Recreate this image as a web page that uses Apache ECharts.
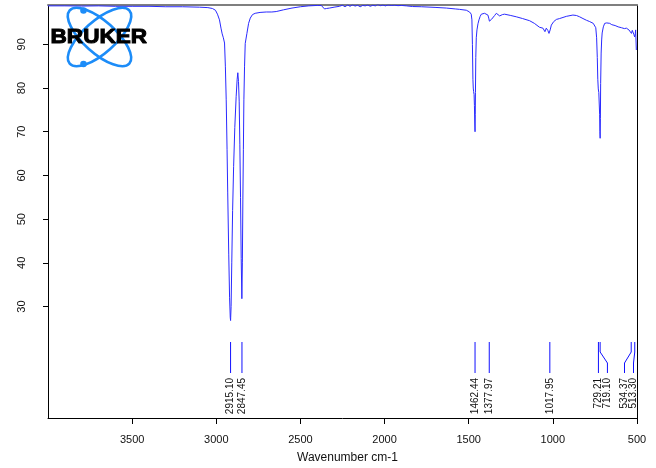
<!DOCTYPE html>
<html><head><meta charset="utf-8">
<script src="https://cdn.jsdelivr.net/npm/echarts@6/dist/echarts.min.js"></script>
<style>html,body{margin:0;padding:0;background:#fff}#c{width:656px;height:468px}</style>
</head><body><div id="c"></div>
<script>
// ---- data ----
const wavenumbers = [4000,3900,3800,3700,3600,3500,3400,3300,3200,3100,3050,3023,3005,2993,2981,2972,2965,2958,2951,2946,2941,2936,2932,2926,2921,2917,2915,2912,2908,2903,2897,2890,2882,2876,2872,2868,2864,2860,2856,2852,2848,2845,2842,2839,2836,2832,2828,2818,2808,2798,2785,2769,2740,2703,2670,2644,2600,2550,2500,2450,2400,2376,2365,2357,2345,2327,2300,2268,2250,2235,2220,2205,2190,2175,2160,2145,2130,2115,2100,2085,2070,2055,2040,2025,2010,1995,1980,1960,1940,1920,1900,1870,1834,1780,1700,1633,1580,1554,1514,1495,1485,1481,1478,1475,1473,1471,1468,1466,1464,1462.4,1461,1460,1458,1455,1451,1445,1439,1432,1425,1415,1406,1396,1386,1381,1377,1372,1365,1356,1346,1336,1326,1316,1300,1287,1250,1217,1180,1138,1110,1079,1059,1047,1039,1030,1023,1016,1009,995,979,960,920,881,860,841,821,800,781,760,752,745,740,736,733,730,727,724,722,720.5,719,717.5,716,713,710,707,700,692,680,670,662,650,640,630,622,612,602,592,583,575,568,563,555,548,543,538,533,528,524,519,514,510,508,504,500];
const transmittance = [98.8,98.8,98.75,98.8,98.7,98.7,98.7,98.6,98.6,98.5,98.4,98.2,97.8,96.9,95.6,93.7,92.4,91.5,90.3,85,77.3,66,56,42,32,27.5,26.8,30,40,52,62,71,78,82,83.5,81.5,77,67,55,41,31.8,40,54.4,66,77.3,85,90.2,92.5,94.8,96.0,96.8,97.1,97.3,97.4,97.4,97.5,97.9,98.3,98.6,98.8,98.9,98.9,98.6,98.1,98.2,98.3,98.5,98.7,98.95,98.6,99.0,98.7,99.05,98.75,98.95,98.6,98.9,98.8,99.0,98.7,98.95,98.8,99.1,98.85,99.0,98.8,99.0,98.9,98.95,98.85,98.9,98.8,98.65,98.6,98.45,98.3,98.1,98.0,97.8,97.4,96.9,95.6,90,82,80.0,79.2,78.5,76,72,70.0,74,79,87,91.5,93.3,94.7,95.6,96.4,96.9,97.1,97.1,97.0,96.7,96.0,95.3,95.4,95.7,95.9,96.6,97.1,96.8,96.5,96.8,96.9,96.6,96.3,95.9,95.4,94.8,93.9,93.7,92.9,93.7,93.2,92.5,93.3,94.4,95.2,95.7,95.9,96.4,96.7,96.6,96.3,95.9,95.5,95.2,94.8,94.6,93.8,91.5,87,82,79.8,79.0,78.6,74,70,68.5,73,81,88,91,92.6,94.0,94.8,94.9,94.7,94.8,94.5,94.6,94.3,94.4,94.0,94.2,93.8,94.0,93.6,93.9,93.7,94.0,93.3,93.1,93.6,92.5,93.2,92.9,92.3,91.7,92.5,93.3,88.7,88.7];
const peakWavenumbers = [2915.10, 2847.45, 1462.44, 1377.97, 1017.95, 729.21, 719.10, 534.37, 513.30];
const peakLabels = ['2915.10','2847.45','1462.44','1377.97','1017.95','729.21','719.10','534.37','513.30'];
const xTicks = [3500, 3000, 2500, 2000, 1500, 1000, 500];
const yTicks = [30, 40, 50, 60, 70, 80, 90];
const xTitle = 'Wavenumber cm-1';
const logoText = 'BRUKER';

// ---- chart ----
const FONT = '"Liberation Sans", Arial, sans-serif';
const spectrum = wavenumbers.map((w, i) => [w, transmittance[i]]);
const chart = echarts.init(document.getElementById('c'), null, {renderer: 'canvas'});

function layoutLabels(xs) {
  const gap = 9, rightBound = 633.5;
  const out = xs.slice();
  for (let i = 1; i < out.length; i++) if (out[i] < out[i - 1] + gap) out[i] = out[i - 1] + gap;
  if (out[out.length - 1] > rightBound) out[out.length - 1] = rightBound;
  for (let i = out.length - 2; i >= 0; i--) if (out[i] > out[i + 1] - gap) out[i] = Math.max(xs[i] - 20, out[i + 1] - gap);
  return out;
}

const ORBIT = '#1c8cf8';
const option = {
  animation: false,
  backgroundColor: '#fff',
  grid: {left: 48, right: 19, top: 5, bottom: 50, containLabel: false},
  xAxis: [{
    type: 'value', position: 'bottom', inverse: true, min: 500, max: 4000, interval: 500,
    axisLine: {show: true, lineStyle: {color: '#000', width: 1}},
    axisTick: {show: true, length: 6, lineStyle: {color: '#000'}, customValues: xTicks},
    axisLabel: {show: true, customValues: xTicks, fontSize: 11, color: '#111', fontFamily: FONT, margin: 16,
      formatter: v => String(v)},
    splitLine: {show: false}
  }, {
    type: 'value', position: 'top', inverse: true, min: 500, max: 4000,
    axisLine: {show: true, onZero: false, lineStyle: {color: '#7f7f7f', width: 2}},
    axisTick: {show: false}, axisLabel: {show: false}, splitLine: {show: false}
  }],
  yAxis: [{
    type: 'value', position: 'left', min: 4.5, max: 99,
    axisLine: {show: true, onZero: false, lineStyle: {color: '#000', width: 1}},
    axisTick: {show: true, length: 5, lineStyle: {color: '#000'}, customValues: yTicks},
    axisLabel: {show: true, customValues: yTicks, rotate: 90, fontSize: 11, color: '#111', fontFamily: FONT, margin: 21,
      formatter: v => String(v)},
    splitLine: {show: false}
  }, {
    type: 'value', position: 'right', min: 4.5, max: 99,
    axisLine: {show: true, onZero: false, lineStyle: {color: '#000', width: 1}},
    axisTick: {show: false}, axisLabel: {show: false}, splitLine: {show: false}
  }],
  series: [{
    type: 'line', data: spectrum, xAxisIndex: 0, yAxisIndex: 0,
    symbol: 'none', smooth: false,
    lineStyle: {color: '#2a2aff', width: 1}, z: 3
  }, {
    type: 'custom', xAxisIndex: 0, yAxisIndex: 0, clip: false,
    data: peakWavenumbers.map((w, i) => [w, 0, i]),
    encode: {x: 0, y: 1},
    renderItem: function (params, api) {
      const idx = api.value(2);
      const xs = peakWavenumbers.map(w => api.coord([w, 50])[0]);
      const lxs = layoutLabels(xs);
      const px = xs[idx], lx = lxs[idx];
      const yTop = 342, yBend1 = 352, yBend2 = 363, yBot = 373;
      return {
        type: 'group',
        children: [{
          type: 'polyline',
          shape: {points: [[px, yTop], [px, yBend1], [lx, yBend2], [lx, yBot]]},
          style: {stroke: '#1010ff', lineWidth: 1, fill: null}
        }, {
          type: 'text', x: lx, y: 378, rotation: Math.PI / 2,
          style: {text: peakLabels[idx], fontSize: 10, fontFamily: FONT, fill: '#111', align: 'right', verticalAlign: 'middle'}
        }]
      };
    }, z: 4
  }],
  graphic: [
    {type: 'ellipse', x: 99.5, y: 37, rotation: -0.73, shape: {cx: 0, cy: 0, rx: 40, ry: 16},
      style: {fill: null, stroke: ORBIT, lineWidth: 2.6}, z: 10},
    {type: 'ellipse', x: 99.5, y: 37, rotation: 0.73, shape: {cx: 0, cy: 0, rx: 40, ry: 16},
      style: {fill: null, stroke: ORBIT, lineWidth: 2.6}, z: 10},
    {type: 'circle', shape: {cx: 83.5, cy: 10.5, r: 3.3}, style: {fill: ORBIT}, z: 10},
    {type: 'circle', shape: {cx: 83.5, cy: 64, r: 3.3}, style: {fill: ORBIT}, z: 10},
    {type: 'text', x: 50.5, y: 37.5, scaleX: 1.13, z: 11,
      style: {text: logoText, font: 'bold 20px "Liberation Sans", Arial, sans-serif', fill: '#000', stroke: '#000', lineWidth: 1, verticalAlign: 'middle', align: 'left'}},
    {type: 'text', x: 297, y: 452, z: 11,
      style: {text: xTitle, fontSize: 12, fontFamily: FONT, fill: '#111', align: 'left', verticalAlign: 'top'}}
  ]
};
chart.setOption(option);
</script>
</body></html>
